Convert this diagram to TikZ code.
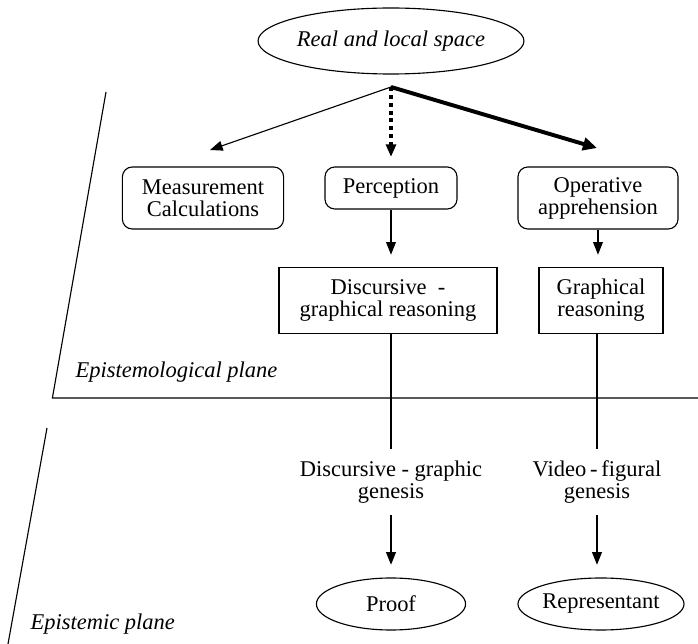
\documentclass[tikz,border=0pt]{standalone}
\usepackage{fontspec}
\setmainfont{Liberation Serif}
\usetikzlibrary{shapes.geometric,arrows.meta}

\begin{document}
\begin{tikzpicture}[>={Triangle[length=9pt,width=7pt]}, line width=0.8pt,
  font=\fontsize{16}{15.6}\selectfont,
  rbox/.style={draw, rounded corners=7pt, align=center, inner sep=0pt},
  sbox/.style={draw, align=center, inner sep=0pt},
  oval/.style={draw, ellipse, inner sep=0pt},
  gen/.style={align=center, inner sep=8pt},
  plane/.style={anchor=base west, inner sep=0pt, font=\fontsize{16}{15.6}\selectfont\itshape}]
\useasboundingbox (0,0) rectangle (17.45,16.1);

\node[oval, minimum width=6.48cm, minimum height=1.65cm](A) at (9.775,15.075){\itshape Real and local space};

\coordinate (F) at (9.775,13.925);
\coordinate (T1) at (5.25,12.35);
\coordinate (T2) at (9.775,12.175);
\coordinate (T3) at (14.925,12.4);

\node[rbox, minimum width=4.03cm, minimum height=1.55cm](B1) at (5.075,11.15){Measurement\\Calculations};
\node[rbox, minimum width=3.3cm, minimum height=1.05cm](B2) at (9.775,11.4){Perception};
\node[rbox, minimum width=4cm, minimum height=1.55cm](B3) at (14.95,11.15){Operative\\apprehension};

\draw[->](F)--(T1);
\draw[->, line width=2.8pt, dash pattern=on 2.8pt off 2.8pt](F)--(T2);
\draw[->, line width=2.8pt, >={Triangle[length=10pt,width=9pt]}](F)--(T3);

\node[sbox, minimum width=5.45cm, minimum height=1.63cm](C1) at (9.7,8.5875){Discursive \ -\\graphical reasoning};
\node[sbox, minimum width=3.1cm, minimum height=1.63cm](C2) at (15.025,8.5875){Graphical\\reasoning};

\draw[->, shorten >=9pt](B2.south)--(B2.south |- C1.north);
\draw[->, shorten >=9pt](B3.south)--(B3.south |- C2.north);

% plans
\coordinate (P1) at (2.65,13.8);
\coordinate (P2) at (1.31,6.15);
\coordinate (P3) at (17.45,6.15);
\coordinate (P4) at (1.175,5.4);
\coordinate (P5) at (0.2,0);
\draw (P1)--(P2)--(P3);
\draw (P4)--(P5);
\node[plane](L1) at (1.875,6.65){Epistemological plane};
\node[plane](L2) at (0.75,0.35){Epistemic plane};

\node[gen](D1) at (9.775,4.05){Discursive - graphic\\genesis};
\node[gen](D2) at (14.925,4.05){Video\,-\,figural\\genesis};

\draw (D1.north |- C1.south)--(D1.north);
\draw (D2.north |- C2.south)--(D2.north);

\node[oval, minimum width=3.73cm, minimum height=1.3cm](E1) at (9.775,1.0){Proof};
\node[oval, minimum width=3.98cm, minimum height=1.3cm](E2) at (15.025,1.0){Representant};

\draw[->, shorten >=9pt](D1.south)--(E1.north);
\draw[->, shorten >=9pt](D2.south)--(D2.south |- E2.north);
\end{tikzpicture}
\end{document}
